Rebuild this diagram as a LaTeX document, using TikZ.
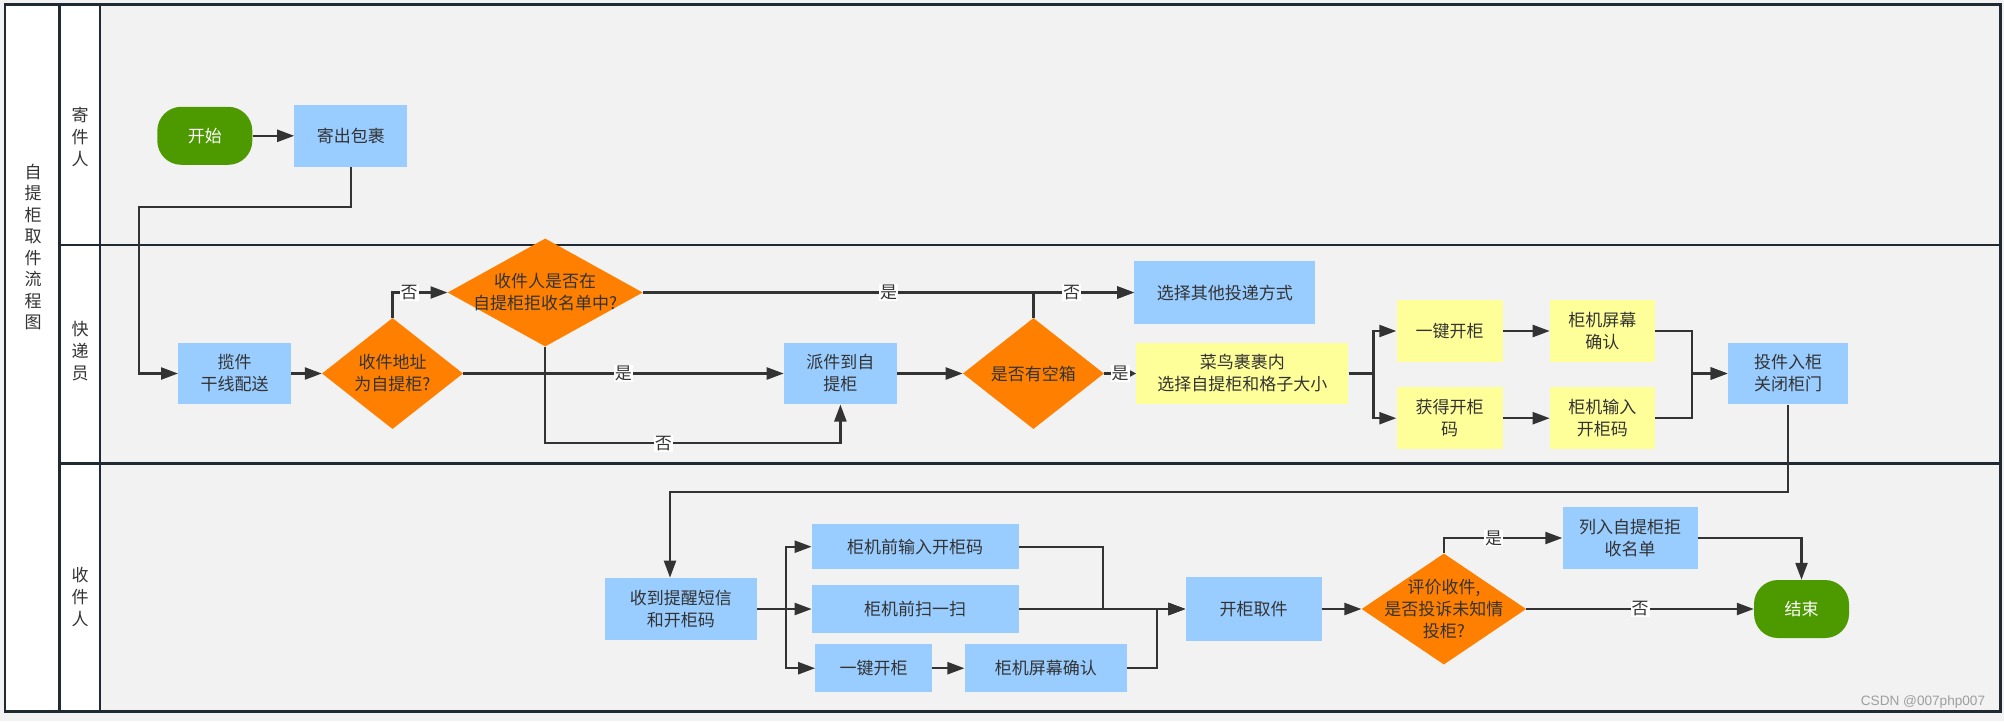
\documentclass[tikz,border=0pt]{standalone}
\usepackage{fontspec}
\newfontfamily\cjk{Noto Sans CJK SC}
\newfontfamily\wmfont{Liberation Sans}
\usetikzlibrary{positioning}
\usetikzlibrary{shapes.geometric}
\usetikzlibrary{arrows.meta}
\definecolor{boxblue}{HTML}{99CCFF}
\definecolor{boxyellow}{HTML}{FFFF99}
\definecolor{decorange}{HTML}{FF8000}
\definecolor{termgreen}{HTML}{4D9900}
\definecolor{lanegray}{HTML}{F2F2F2}
\definecolor{framecol}{HTML}{1F2A33}
\definecolor{linecol}{HTML}{333333}
\begin{document}
\begin{tikzpicture}[x=1pt, y=-1pt,
    every node/.style={font=\cjk\fontsize{17}{22}\selectfont, text=linecol, align=center, inner sep=0pt},
    bluebox/.style={fill=boxblue, minimum height=61.6pt},
    yellowbox/.style={fill=boxyellow, minimum height=61.6pt},
    terminal/.style={fill=termgreen, rounded corners=24pt, minimum width=95pt, minimum height=58pt, text=white},
    decision/.style={diamond, fill=decorange},
    lanetext/.style={font=\cjk\fontsize{17}{22}\selectfont},
    lbl/.style={fill=white, inner sep=1pt},
    arr/.style={draw=linecol, line width=2.3pt, -{Triangle[length=17pt,width=12pt]}},
    lane/.style={draw=framecol, line width=2.6pt}]
\useasboundingbox (0,0) rectangle (2004,721);
\fill[lanegray] (0,0) rectangle (2004,721);
\fill[white] (5,4.3) rectangle (100,711.7);
\draw[lane] (5,4.3) rectangle (2000.7,711.7);
\draw[lane] (59.3,4.3) -- (59.3,711.7) (100,4.3) -- (100,711.7);
\draw[lane] (59.3,245) -- (2000.7,245) (59.3,463.3) -- (2000.7,463.3);
\node[font=\cjk\fontsize{17}{21.5}\selectfont] (title) at (33,247) {自\\提\\柜\\取\\件\\流\\程\\图};
\node[lanetext] (sender) at (80,137) {寄\\件\\人};
\node[lanetext] (courier) at (80,350.6) {快\\递\\员};
\node[lanetext] (receiver) at (80,597) {收\\件\\人};

\node[terminal] (start) at (204.8,135.8) {开始};
\node[bluebox, minimum width=113pt, right=41.7pt of start] (send) {寄出包裹};
\node[bluebox, minimum width=113pt] (pickup) at (234.7,373.5) {揽件\\干线配送};
\node[decision, minimum width=141pt, minimum height=111pt, right=30.4pt of pickup, label=center:{收件地址\\为自提柜?}] (isbox) {};
\node[decision, minimum width=195pt, minimum height=108pt, label=center:{收件人是否在\\自提柜拒收名单中?}] (refuse) at (545.2,292.5) {};
\node[bluebox, minimum width=113pt, right=320.5pt of isbox] (deliver) {派件到自\\提柜};
\node[decision, minimum width=141pt, minimum height=111pt, right=65.6pt of deliver, label=center:是否有空箱] (empty) {};
\node[bluebox, minimum width=181pt, minimum height=62.6pt] (other) at (1224.8,292.5) {选择其他投递方式};
\node[yellowbox, minimum width=212pt, right=32pt of empty] (choose) {菜鸟裹裹内\\选择自提柜和格子大小};
\node[yellowbox, minimum width=106pt] (onekey) at (1449.5,331) {一键开柜};
\node[yellowbox, minimum width=105pt, right=47pt of onekey] (confirm) {柜机屏幕\\确认};
\node[yellowbox, minimum width=106pt] (getcode) at (1449.5,418.2) {获得开柜\\码};
\node[yellowbox, minimum width=105pt, right=47pt of getcode] (inputcode) {柜机输入\\开柜码};
\node[bluebox, minimum width=120.4pt] (putin) at (1788,373.5) {投件入柜\\关闭柜门};
\node[bluebox, minimum width=152pt, minimum height=62.3pt] (notice) at (680.8,609) {收到提醒短信\\和开柜码};
\node[bluebox, minimum width=206.7pt, minimum height=44.7pt] (frontcode) at (915.2,546.7) {柜机前输入开柜码};
\node[bluebox, minimum width=206.7pt, minimum height=48.3pt] (scan) at (915.2,609) {柜机前扫一扫};
\node[bluebox, minimum width=116.7pt, minimum height=48.3pt] (onekeyb) at (873.7,668.2) {一键开柜};
\node[bluebox, minimum width=162.3pt, minimum height=48.3pt, right=32.2pt of onekeyb] (confirmb) {柜机屏幕确认};
\node[bluebox, minimum width=136pt, minimum height=64pt] (take) at (1253.5,609) {开柜取件};
\node[decision, minimum width=164.5pt, minimum height=111pt, right=39.7pt of take, label=center:{评价收件,\\是否投诉未知情\\投柜?}] (rate) {};
\node[bluebox, minimum width=135pt, minimum height=62.6pt] (blacklist) at (1630,538) {列入自提柜拒\\收名单};
\node[terminal, right=227.5pt of rate] (end) {结束};
\node[font=\wmfont\fontsize{13.6}{14}\selectfont, text=black!38] (mark) at (1923,702) {CSDN @007php007};

\draw[arr] (start) -- (send);
\draw[arr] (send.south) -- ++(0,40) -- ++(-212,0) |- (pickup.west);
\draw[arr] (pickup) -- (isbox);
\draw[arr] (isbox.north) |- node[lbl, pos=0.65] {否} (refuse.west);
\draw[arr] (isbox) -- node[lbl] {是} (deliver);
\draw[arr] (refuse.south) -- ++(0,96.5) -| node[lbl, pos=0.2] {否} (deliver.south);
\draw[arr] (refuse) -- node[lbl] {是} (other);
\draw[arr] (deliver) -- (empty);
\draw[arr] (empty.north) |- node[lbl, pos=0.69] {否} (other.west);
\draw[arr, -{Triangle[length=6pt,width=6pt]}] (empty) -- node[lbl] {是} (choose);
\draw[arr] (choose.east) -- ++(25,0) |- (onekey.west);
\draw[arr] (choose.east) -- ++(25,0) |- (getcode.west);
\draw[arr] (onekey) -- (confirm);
\draw[arr] (getcode) -- (inputcode);
\draw[arr] (confirm.east) -- ++(37,0) |- (putin.west);
\draw[arr] (inputcode.east) -- ++(37,0) |- (putin.west);
\draw[arr] (putin.south) -- ++(0,87.4) -| ([xshift=-10.8pt]notice.north);
\draw[arr] (notice.east) -- ++(29,0) |- (frontcode.west);
\draw[arr] (notice) -- (scan);
\draw[arr] (notice.east) -- ++(29,0) |- (onekeyb.west);
\draw[arr] (onekeyb) -- (confirmb);
\draw[arr] (frontcode.east) -- ++(84,0) |- (take.west);
\draw[arr] (scan) -- (take);
\draw[arr] (confirmb.east) -- ++(29.5,0) |- (take.west);
\draw[arr] (take) -- (rate);
\draw[arr] (rate.north) |- node[lbl, pos=0.71] {是} (blacklist.west);
\draw[arr] (blacklist.east) -| (end.north);
\draw[arr] (rate) -- node[lbl] {否} (end);
\end{tikzpicture}
\end{document}
